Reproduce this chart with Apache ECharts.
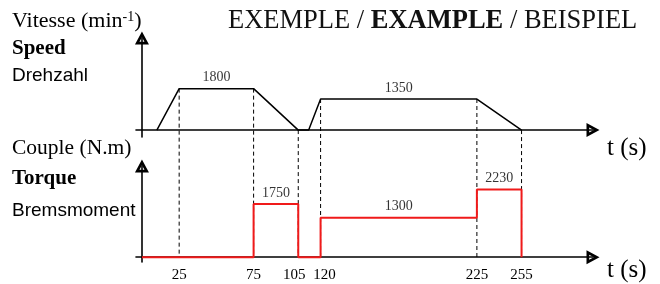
<!DOCTYPE html>
<html>
<head>
<meta charset="utf-8">
<script src="https://cdn.jsdelivr.net/npm/echarts@6/dist/echarts.min.js"></script>
<style>
html, body { margin: 0; padding: 0; background: #fff; }
#chart { width: 660px; height: 284px; }
</style>
</head>
<body>
<div id="chart"></div>
<script>
// times (s) written under the torque axis
var tickTimes = [25, 75, 105, 120, 225, 255];
// speed profile breakpoints: time (s) / speed (min-1)
var speedTimes = [10, 25, 75, 105, 112, 120, 225, 255];
var speedValues = [0, 1800, 1800, 0, 0, 1350, 1350, 0];
// braking torque steps: from, to (s) / torque (N.m)
var torqueStart = [0, 75, 105, 120, 225];
var torqueEnd = [75, 105, 120, 225, 255];
var torqueValues = [0, 1750, 0, 1300, 2230];

var serif = "'Liberation Serif', 'Times New Roman', serif";
var sans = "'Liberation Sans', Arial, sans-serif";
// hollow triangle used as axis arrow
var arrow = 'path://M7,0L14,13L0,13Z M7,5.7L4.5,10.3L9.5,10.3Z';

var chart = echarts.init(document.getElementById('chart'));

function speedAt(t) {
	return speedValues[speedTimes.indexOf(t)];
}

var speedData = [];
for (var i = 0; i < speedTimes.length; i++) {
	speedData.push([speedTimes[i], speedValues[i]]);
}

var torqueData = [];
for (var i = 0; i < torqueStart.length; i++) {
	torqueData.push([torqueStart[i], torqueValues[i]]);
	torqueData.push([torqueEnd[i], torqueValues[i]]);
}
torqueData.push([torqueEnd[torqueEnd.length - 1], 0]);

// value labels sit in the middle of each plateau
var speedLabels = [];
for (var i = 1; i < speedTimes.length; i++) {
	if (speedValues[i] > 0 && speedValues[i] === speedValues[i - 1]) {
		speedLabels.push([(speedTimes[i] + speedTimes[i - 1]) / 2, speedValues[i]]);
	}
}
var torqueLabels = [];
for (var i = 0; i < torqueStart.length; i++) {
	if (torqueValues[i] > 0) {
		torqueLabels.push([(torqueStart[i] + torqueEnd[i]) / 2, torqueValues[i]]);
	}
}

function xAxis(idx) {
	return {
		gridIndex: idx,
		type: 'value',
		min: -4,
		max: 303,
		axisLine: {
			onZero: true,
			symbol: ['none', arrow],
			symbolSize: [14, 13],
			lineStyle: { color: '#000', width: 1.6 }
		},
		axisTick: { show: false },
		splitLine: { show: false },
		axisLabel: {
			show: idx === 1,
			customValues: tickTimes,
			hideOverlap: false,
			margin: 6,
			color: '#000',
			fontFamily: serif,
			fontSize: 15,
			formatter: function (v) {
				if (v === 105) return '{l|' + v + '}';
				if (v === 120) return '{r|' + v + '}';
				return '' + v;
			},
			rich: {
				l: { fontFamily: serif, fontSize: 15, color: '#000', padding: [0, 8, 0, 0] },
				r: { fontFamily: serif, fontSize: 15, color: '#000', padding: [0, 0, 0, 8] }
			}
		}
	};
}

function yAxis(idx, min, max) {
	return {
		gridIndex: idx,
		type: 'value',
		min: min,
		max: max,
		axisLine: {
			onZero: true,
			symbol: ['none', arrow],
			symbolSize: [14, 13],
			lineStyle: { color: '#000', width: 1.6 }
		},
		axisTick: { show: false },
		axisLabel: { show: false },
		splitLine: { show: false }
	};
}

function label(text, left, top, size, family, weight) {
	return {
		text: text,
		left: left,
		top: top,
		padding: 0,
		textStyle: { fontFamily: family, fontSize: size, fontWeight: weight || 'normal', color: '#000' }
	};
}

var valueLabel = {
	show: true,
	position: 'top',
	distance: 4,
	color: '#000',
	fontFamily: serif,
	fontSize: 14,
	formatter: function (p) { return p.value[1]; }
};

var option = {
	animation: false,
	backgroundColor: '#fff',
	title: [
		{
			text: '{r|EXEMPLE / }{b|EXAMPLE}{r| / BEISPIEL}',
			left: 228,
			top: 8,
			padding: 0,
			textStyle: {
				fontWeight: 'normal',
				rich: {
					r: { fontFamily: serif, fontSize: 26.5, fontWeight: 'normal', color: '#111' },
					b: { fontFamily: serif, fontSize: 26.5, fontWeight: 'bold', color: '#111' }
				}
			}
		},
		{
			text: '{a|Vitesse (min}{s|-1}{a|)}',
			left: 12,
			top: 10,
			padding: 0,
			textStyle: {
				fontWeight: 'normal',
				rich: {
					a: { fontFamily: serif, fontSize: 22, fontWeight: 'normal', color: '#000' },
					s: { fontFamily: serif, fontSize: 14, fontWeight: 'normal', color: '#000', verticalAlign: 'top' }
				}
			}
		},
		label('Speed', 12, 38, 21, serif, 'bold'),
		label('Drehzahl', 12, 66, 19, sans),
		label('Couple (N.m)', 12, 137, 21.5, serif),
		label('Torque', 12, 168, 21, serif, 'bold'),
		label('Bremsmoment', 12, 201, 19, sans),
		label('t (s)', 607, 136, 25, serif),
		label('t (s)', 607, 258, 25, serif)
	],
	grid: [
		{ left: 136, right: 67, top: 38, height: 99 },
		{ left: 136, right: 67, top: 166, height: 96 }
	],
	xAxis: [xAxis(0), xAxis(1)],
	yAxis: [yAxis(0, -300, 4000), yAxis(1, -160, 3000)],
	series: [
		{
			type: 'line',
			xAxisIndex: 0,
			yAxisIndex: 0,
			data: speedData,
			symbol: 'none',
			z: 5,
			lineStyle: { color: '#000', width: 1.5 }
		},
		{
			type: 'line',
			xAxisIndex: 1,
			yAxisIndex: 1,
			data: torqueData,
			symbol: 'none',
			z: 6,
			lineStyle: { color: '#f01a1a', width: 2 }
		},
		{
			type: 'scatter',
			xAxisIndex: 0,
			yAxisIndex: 0,
			data: speedLabels,
			symbolSize: 0,
			label: valueLabel
		},
		{
			type: 'scatter',
			xAxisIndex: 1,
			yAxisIndex: 1,
			data: torqueLabels,
			symbolSize: 0,
			label: valueLabel
		}
	]
};
chart.setOption(option);

// dashed guides: from the speed curve down to the torque time axis
var torqueZeroPx = chart.convertToPixel({ gridIndex: 1 }, [0, 0])[1];
var reach = chart.convertFromPixel({ gridIndex: 0 }, [0, torqueZeroPx])[1];
var guides = tickTimes.map(function (t) {
	return {
		type: 'line',
		xAxisIndex: 0,
		yAxisIndex: 0,
		data: [[t, speedAt(t)], [t, reach]],
		symbol: 'none',
		clip: false,
		silent: true,
		z: 1,
		lineStyle: { color: '#000', width: 1, type: [4, 3] }
	};
});
chart.setOption({ series: option.series.concat(guides) });
</script>
</body>
</html>
